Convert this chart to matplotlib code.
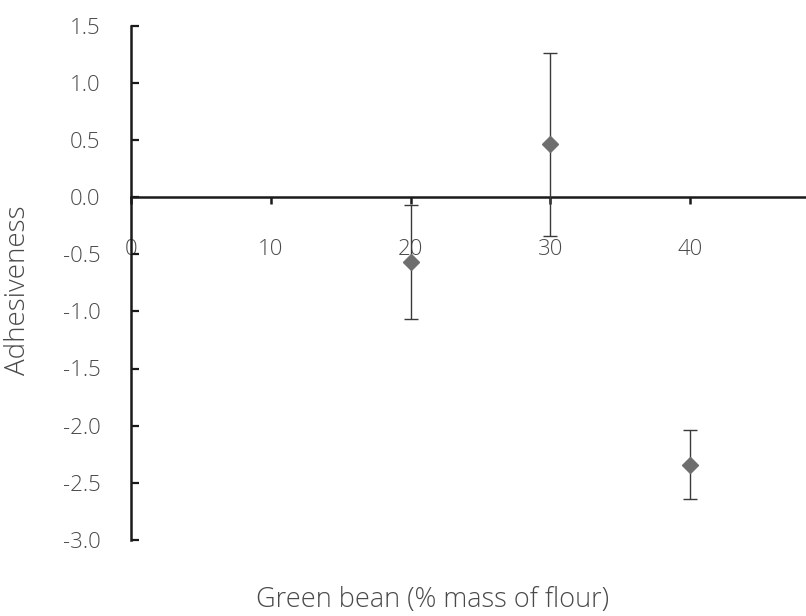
import matplotlib
matplotlib.use("Agg")
import matplotlib.pyplot as plt

# Adhesiveness of samples with increasing green bean flour substitution
green_bean = [20, 30, 40]
adhesiveness = [-0.57, 0.46, -2.34]
std_err = [0.50, 0.80, 0.30]

x_ticks = [0, 10, 20, 30, 40]
y_ticks = [-3.0, -2.5, -2.0, -1.5, -1.0, -0.5, 0.0, 0.5, 1.0, 1.5]

plt.rcParams["font.family"] = ["Open Sans", "DejaVu Sans"]
text_color = "#4a4a4a"

fig = plt.figure(figsize=(8.06, 6.16), dpi=100)
ax = fig.add_axes([131 / 806, 1 - 540 / 616, 1 - 131 / 806, (540 - 25.5) / 616])

ax.errorbar(green_bean, adhesiveness, yerr=std_err, fmt="D", color="#6e6e6e",
            markersize=8, markeredgecolor="#707070", ecolor="#3a3a3a",
            elinewidth=1.0, capsize=5, capthick=1.0, zorder=3)

ax.set_xlim(0, 48.3)
ax.set_ylim(-3.0, 1.5)

ax.spines["top"].set_visible(False)
ax.spines["right"].set_visible(False)
ax.spines["bottom"].set_position(("data", 0))
for s in ("left", "bottom"):
    ax.spines[s].set_linewidth(1.8)
    ax.spines[s].set_color("#1a1a1a")

ax.set_xticks(x_ticks)
ax.set_xticklabels([str(v) for v in x_ticks])
ax.set_yticks(y_ticks)
ax.set_yticklabels([f"{v:.1f}" for v in y_ticks])

ax.tick_params(axis="x", direction="out", length=5, width=1.8, color="#1a1a1a",
               pad=25, labelsize=16, labelcolor=text_color)
ax.tick_params(axis="y", direction="in", length=6, width=1.6, color="#1a1a1a",
               pad=22, labelsize=16, labelcolor=text_color)
for lab in ax.get_xticklabels() + ax.get_yticklabels():
    lab.set_fontweight("light")

fig.text(18 / 806, 1 - 290 / 616, "Adhesiveness", rotation=90, ha="center",
         va="center", fontsize=20, color=text_color, fontweight="light")
fig.text(433 / 806, 1 - 600 / 616, "Green bean (% mass of flour)", ha="center",
         va="center", fontsize=19.5, color=text_color, fontweight="light")

fig.savefig("out.png", dpi=100)
